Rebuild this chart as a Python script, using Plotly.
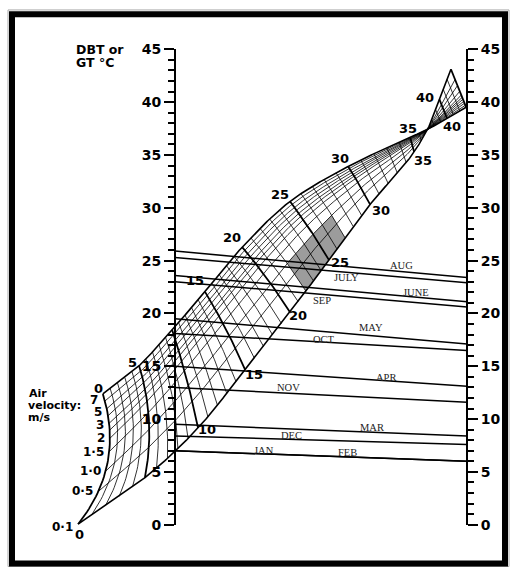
import numpy as np
import plotly.graph_objects as go

# month lines: dry bulb (left scale) joined to wet bulb (right scale)
MONTHS = ["JAN", "FEB", "MAR", "APR", "MAY", "JUNE", "JULY", "AUG", "SEP", "OCT", "NOV", "DEC"]
DBT = [7.0, 7.0, 9.5, 15.0, 19.5, 23.6, 25.3, 25.9, 23.0, 18.1, 13.0, 8.4]
WBT = [6.0, 6.0, 8.4, 13.1, 17.1, 21.1, 22.9, 23.4, 20.6, 16.5, 11.6, 7.6]

# effective temperature scale of the nomogram, where each ET line meets
# the 7 m/s edge and the 0.1 m/s edge (x: 0 = DBT scale, 1 = WBT scale; y in degC)
ET_KNOTS = [0, 5, 10, 15, 20, 25, 30, 35, 37]
EDGE7_X = [-0.247, -0.123, -0.010, 0.103, 0.230, 0.394, 0.593, 0.805, 0.866]
EDGE7_Y = [12.38, 15.05, 18.45, 22.04, 26.27, 30.60, 33.91, 36.67, 37.41]
EDGE01_X = [-0.332, -0.103, 0.079, 0.240, 0.394, 0.527, 0.668, 0.819, 0.866]
EDGE01_Y = [0.05, 4.46, 9.16, 14.68, 20.10, 25.07, 30.32, 35.29, 37.41]
ET_BOW = [35, 14, 3, 3, 3, 2, 1, 0, 0]

# above 37 degC the velocity curves fan out again
FAN_ET = [37, 43]
FAN_TOP = (0.945, 43.11)
FAN_SIDE = (0.997, 39.52)

VELOCITIES = [0.1, 0.5, 1.0, 1.5, 2.0, 2.5, 3.0, 4.0, 5.0, 6.0, 7.0]
VEL_FRAC = [0.0, 0.27, 0.43, 0.58, 0.68, 0.74, 0.79, 0.845, 0.895, 0.95, 1.0]
VEL_LABELS = {0.1: "0·1", 0.5: "0·5", 1.0: "1·0", 1.5: "1·5", 2.0: "2", 3.0: "3", 5.0: "5", 7.0: "7"}

COMFORT_ET = (22, 27)
COMFORT_V = (0.1, 1.0)

# page geometry (px)
W, H = 514, 575
LEFT_PX, RIGHT_PX = 175, 467
Y0_PX, Y45_PX = 531.5, 42.5
SX = RIGHT_PX - LEFT_PX
SY = (Y0_PX - Y45_PX) / 45


def smooth(knots, vals, t):
    k = np.asarray(knots, float)
    v = np.asarray(vals, float)
    m = np.gradient(v, k)
    t = np.asarray(t, float)
    i = np.clip(np.searchsorted(k, t, side="right") - 1, 0, len(k) - 2)
    h = k[i + 1] - k[i]
    s = (t - k[i]) / h
    return ((2 * s**3 - 3 * s**2 + 1) * v[i] + (s**3 - 2 * s**2 + s) * h * m[i]
            + (-2 * s**3 + 3 * s**2) * v[i + 1] + (s**3 - s**2) * h * m[i + 1])


def et_point(et, f):
    """point on ET line `et` at velocity fraction f (0 = 0.1 m/s edge, 1 = 7 m/s edge)"""
    et = np.asarray(et, float)
    f = np.asarray(f, float)
    ux, uy = smooth(ET_KNOTS, EDGE7_X, et) * SX, smooth(ET_KNOTS, EDGE7_Y, et) * SY
    lx, ly = smooth(ET_KNOTS, EDGE01_X, et) * SX, smooth(ET_KNOTS, EDGE01_Y, et) * SY
    dx, dy = ux - lx, uy - ly
    n = np.hypot(dx, dy) + 1e-9
    bow = np.interp(et, ET_KNOTS, ET_BOW)
    cx = (ux + lx) / 2 + bow * dy / n
    cy = (uy + ly) / 2 - bow * dx / n
    x = (1 - f) ** 2 * lx + 2 * f * (1 - f) * cx + f**2 * ux
    y = (1 - f) ** 2 * ly + 2 * f * (1 - f) * cy + f**2 * uy
    return x / SX, y / SY


def fan_point(et, f):
    px, py = EDGE7_X[-1], EDGE7_Y[-1]
    a = (np.asarray(et, float) - FAN_ET[0]) / (FAN_ET[1] - FAN_ET[0])
    ux, uy = px + a * (FAN_TOP[0] - px), py + a * (FAN_TOP[1] - py)
    lx, ly = px + a * (FAN_SIDE[0] - px), py + a * (FAN_SIDE[1] - py)
    g = 1 - np.asarray(f, float)
    return lx + g * (ux - lx), ly + g * (uy - ly)


def add_path(store, xs, ys):
    store[0].extend(list(xs) + [None])
    store[1].extend(list(ys) + [None])


thin, heavy, edge = ([], []), ([], []), ([], [])

# velocity curves
et_main = np.linspace(ET_KNOTS[0], ET_KNOTS[-1], 400)
et_fan = np.linspace(FAN_ET[0], FAN_ET[1], 40)
for v, f in zip(VELOCITIES, VEL_FRAC):
    x1, y1 = et_point(et_main, f)
    x2, y2 = fan_point(et_fan, f)
    target = edge if v in (0.1, 7.0) else thin
    add_path(target, np.r_[x1, x2[1:]], np.r_[y1, y2[1:]])

# ET lines every degree
s = np.linspace(0, 1, 40)
for et in range(0, ET_KNOTS[-1]):
    x, y = et_point(np.full_like(s, et), s)
    add_path(heavy if et % 5 == 0 else thin, x, y)
for et in range(FAN_ET[0] + 1, FAN_ET[1] + 1):
    x, y = fan_point(np.full(2, et), np.array([0.0, 1.0]))
    add_path(heavy if et % 5 == 0 or et == FAN_ET[1] else thin, x, y)

# shaded comfort zone
fz = np.interp(COMFORT_V, VELOCITIES, VEL_FRAC)
et_a = np.linspace(COMFORT_ET[0], COMFORT_ET[1], 30)
ff = np.linspace(fz[0], fz[1], 15)
zx, zy = [], []
for xs, ys in [et_point(np.full_like(ff, COMFORT_ET[0]), ff),
               et_point(et_a, np.full_like(et_a, fz[1])),
               et_point(np.full_like(ff, COMFORT_ET[1]), ff[::-1]),
               et_point(et_a[::-1], np.full_like(et_a, fz[0]))]:
    zx.extend(xs)
    zy.extend(ys)

fig = go.Figure()
fig.add_trace(go.Scatter(x=zx, y=zy, fill="toself", fillcolor="rgba(90,90,90,0.6)",
                         line=dict(width=0), mode="lines", hoverinfo="skip"))
fig.add_trace(go.Scatter(x=thin[0], y=thin[1], mode="lines",
                         line=dict(color="black", width=0.8), hoverinfo="skip"))
fig.add_trace(go.Scatter(x=heavy[0], y=heavy[1], mode="lines",
                         line=dict(color="black", width=1.8), hoverinfo="skip"))
fig.add_trace(go.Scatter(x=edge[0], y=edge[1], mode="lines",
                         line=dict(color="black", width=1.6), hoverinfo="skip"))

for m, d, w in zip(MONTHS, DBT, WBT):
    fig.add_trace(go.Scatter(x=[0, 1], y=[d, w], mode="lines", name=m,
                             line=dict(color="black", width=1.5)))
# invisible trace to bring up the WBT scale
fig.add_trace(go.Scatter(x=[1], y=[0], yaxis="y2", mode="markers",
                         marker=dict(opacity=0), hoverinfo="skip"))

# month labels: fraction along the line, offset above (+) / below (-) in px
label_at = {"AUG": (0.777, 6), "JULY": (0.589, -5), "JUNE": (0.825, 5), "SEP": (0.503, -6),
            "MAY": (0.671, 8), "OCT": (0.51, 3), "APR": (0.723, 3), "NOV": (0.39, 6),
            "MAR": (0.675, 5), "DEC": (0.40, 4), "JAN": (0.305, 3), "FEB": (0.592, 5)}
for m, d, w in zip(MONTHS, DBT, WBT):
    t, dy = label_at[m]
    fig.add_annotation(x=t, y=d + t * (w - d), yshift=dy, text=m, showarrow=False,
                       font=dict(family="Liberation Serif", size=10.5, color="#222"))

mesh_font = dict(family="DejaVu Sans", size=13, color="black", weight="bold")
upper_lab = {0: (-4, 5), 5: (-7, 3), 15: (-10, 11), 20: (-10, 10), 25: (-10, 6.5),
             30: (-8, 8), 35: (-2.5, 9)}
lower_lab = {0: (1, -10.5), 10: (9, -2), 15: (9, -5), 20: (8, -3), 25: (11, -3),
             30: (11, -6), 35: (9, -9)}
for et, (dx, dy) in upper_lab.items():
    x, y = et_point(et, 1.0)
    fig.add_annotation(x=float(x), y=float(y), xshift=dx, yshift=dy, text=str(et),
                       showarrow=False, font=mesh_font)
for et, (dx, dy) in lower_lab.items():
    x, y = et_point(et, 0.0)
    fig.add_annotation(x=float(x), y=float(y), xshift=dx, yshift=dy, text=str(et),
                       showarrow=False, font=mesh_font)
x, y = fan_point(40, 0.0)
fig.add_annotation(x=float(x), y=float(y), xshift=-14, yshift=1.5, text="40",
                   showarrow=False, font=mesh_font)
x, y = fan_point(40, 1.0)
fig.add_annotation(x=float(x), y=float(y), xshift=4.5, yshift=-8, text="40",
                   showarrow=False, font=mesh_font)

vel_dy = {0.1: -3, 3.0: -1.5, 5.0: -3.5, 7.0: -6}
for v, f in zip(VELOCITIES, VEL_FRAC):
    if v in VEL_LABELS:
        x, y = et_point(0, f)
        fig.add_annotation(x=float(x), y=float(y), xshift=-3, yshift=vel_dy.get(v, 0),
                           xanchor="right", text=VEL_LABELS[v], showarrow=False,
                           font=dict(family="DejaVu Sans", size=12, color="black", weight="bold"))


def px_to_data(px, py):
    return (px - LEFT_PX) / SX, (Y0_PX - py) / SY


title_font = dict(family="DejaVu Sans", color="black", weight="bold")
for txt, px, py, sz in [("DBT or", 74, 43, 12.5), ("GT °C", 74, 56, 12.5),
                        ("WBT:°C", 392, 42, 12.5), ("Air", 27, 397, 11),
                        ("velocity:", 26, 409, 11), ("m/s", 26, 421, 11)]:
    x, y = px_to_data(px, py)
    fig.add_annotation(x=x, y=y, text=txt, xanchor="left", showarrow=False,
                       font=dict(title_font, size=sz))

tick_font = dict(family="DejaVu Sans", size=14, color="black", weight="bold")
axis_common = dict(range=[0, 45], domain=[(H - Y0_PX) / H, (H - Y45_PX) / H],
                   anchor="free", showline=True, linecolor="black", linewidth=2,
                   ticks="outside", ticklen=10, tickwidth=2, tickcolor="black",
                   tickvals=list(range(0, 46, 5)), tickfont=tick_font,
                   minor=dict(dtick=1, tick0=0, ticks="outside", ticklen=6,
                              tickwidth=1.5, tickcolor="black", showgrid=False),
                   showgrid=False, zeroline=False, fixedrange=True)


def pxx(px):
    return px / W


def pxy(py):
    return (H - py) / H


fig.update_layout(
    width=W, height=H,
    margin=dict(l=0, r=0, t=0, b=0),
    paper_bgcolor="white", plot_bgcolor="white",
    showlegend=False,
    xaxis=dict(range=[-LEFT_PX / SX, (W - LEFT_PX) / SX], domain=[0, 1],
               visible=False, fixedrange=True),
    yaxis=dict(side="left", position=pxx(LEFT_PX), **axis_common),
    yaxis2=dict(side="right", position=pxx(RIGHT_PX), overlaying="y", **axis_common),
    shapes=[
        dict(type="rect", xref="paper", yref="paper", x0=pxx(8), x1=pxx(509),
             y0=pxy(574.5), y1=pxy(2), line=dict(color="#aaa", width=1)),
        dict(type="rect", xref="paper", yref="paper", x0=pxx(12), x1=pxx(505),
             y0=pxy(571.5), y1=pxy(6.5), line=dict(color="black", width=6)),
    ],
)

# the page body keeps no margin so the figure fills the window
fig.write_html("out.html", config={"displayModeBar": False},
               post_script="document.body.style.margin='0';"
                           "document.body.style.overflow='hidden';")
